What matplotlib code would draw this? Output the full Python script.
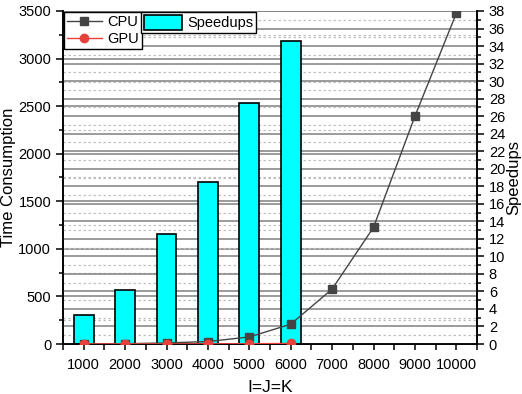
import matplotlib
matplotlib.use("Agg")
import matplotlib.pyplot as plt
import numpy as np
from matplotlib.ticker import MultipleLocator, FixedLocator
from matplotlib.lines import Line2D
from matplotlib.patches import Patch

plt.rcParams['font.family'] = ['Liberation Sans', 'DejaVu Sans']

sizes = ["1000", "2000", "3000", "4000", "5000", "6000", "7000", "8000", "9000", "10000"]
cpu_time = [1, 3, 11, 26, 74, 208, 577, 1226, 2393, 3476]
gpu_sizes = ["1000", "2000", "3000", "4000", "5000", "6000"]
gpu_time = [0.3, 0.5, 0.9, 1.4, 2.7, 6.0]
speedups = [3.3, 6.2, 12.6, 18.5, 27.5, 34.6]

W, H = 522, 394
fig = plt.figure(figsize=(W/100, H/100), dpi=100)
AX_L, AX_R, AX_T, AX_B = 63, 477, 11, 344
ax1 = fig.add_axes([AX_L/W, 1-AX_B/H, (AX_R-AX_L)/W, (AX_B-AX_T)/H])
ax2 = ax1.twinx()

x_all = np.arange(len(sizes))
x_gpu = np.array([sizes.index(s) for s in gpu_sizes])

ax1.set_xlim(-0.5, len(sizes)-0.5)
ax1.set_ylim(0, 3500)
ax2.set_ylim(0, 38)

# grids
grid_major = dict(color='#808080', linewidth=1.1, linestyle='-')
grid_minor = dict(color='#c0c0c0', linewidth=0.9, linestyle=(0, (2, 2)))
for ax in (ax1, ax2):
    ax.set_axisbelow(True)
ax1.yaxis.set_major_locator(MultipleLocator(500))
ax1.yaxis.set_minor_locator(MultipleLocator(250))
ax2.yaxis.set_major_locator(MultipleLocator(2))
ax2.yaxis.set_minor_locator(MultipleLocator(1))
ax1.grid(True, axis='y', which='major', **grid_major)
ax1.grid(True, axis='y', which='minor', **grid_minor)
ax2.grid(True, axis='y', which='major', **grid_major)
ax2.grid(True, axis='y', which='minor', **grid_minor)

# bars on speedup axis
ax2.bar(x_gpu, speedups, width=0.48, color='#00ffff', edgecolor='black', linewidth=1.2, zorder=2)

# lines drawn on ax2 but in ax1 coordinates so they sit above bars
ax2.plot(x_all, cpu_time, color='#444444', linewidth=1.0, marker='s', markersize=6,
         transform=ax1.transData, zorder=4, clip_on=True)
ax2.plot(x_gpu, gpu_time, color='#e8403a', linewidth=1.0, marker='o', markersize=6,
         transform=ax1.transData, zorder=5, clip_on=True)

ax1.set_xticks(x_all)
ax1.set_xticklabels(sizes)
ax1.xaxis.set_minor_locator(FixedLocator(np.arange(-0.5, len(sizes), 1.0)))

for ax in (ax1, ax2):
    ax.spines['top'].set_visible(False)
    for s in ax.spines.values():
        s.set_linewidth(1.2)
        s.set_color('black')

ax1.tick_params(axis='x', which='major', direction='out', length=4, width=1.1, labelsize=10.5, pad=6)
ax1.tick_params(axis='x', which='minor', direction='out', length=4, width=1.1)
ax1.tick_params(axis='y', which='major', direction='out', length=5, width=1.1, labelsize=10.5)
ax1.tick_params(axis='y', which='minor', direction='out', length=3, width=1.1)
ax2.tick_params(axis='y', which='major', direction='out', length=5, width=1.1, labelsize=10.5)
ax2.tick_params(axis='y', which='minor', direction='out', length=3, width=1.1)

AW, AH = AX_R-AX_L, AX_B-AX_T
ax1.set_xlabel("I=J=K", fontsize=12.5)
ax1.xaxis.set_label_coords(0.5, (AX_B-387)/AH)
ax1.xaxis.label.set_va('center')

ax1.set_ylabel("Time Consumption", fontsize=12)
ax1.yaxis.set_label_coords((9-AX_L)/AW, 0.5)
ax1.yaxis.label.set_va('center')
ax1.yaxis.label.set_ha('center')

ax2.set_ylabel("Speedups", fontsize=12)
ax2.yaxis.set_label_coords((513.5-AX_L)/AW, 0.5)
ax2.yaxis.label.set_va('center')
ax2.yaxis.label.set_ha('center')

h1 = [Line2D([0], [0], color='#444444', lw=1.0, marker='s', markersize=6),
      Line2D([0], [0], color='#e8403a', lw=1.0, marker='o', markersize=6)]
leg1 = fig.legend(h1, ["CPU", "GPU"], loc='upper left', bbox_to_anchor=(64/W, 1-12/H),
                  borderaxespad=0, fancybox=False, edgecolor='black', framealpha=1,
                  fontsize=10.5, handlelength=2.4, borderpad=0.2, labelspacing=0.2,
                  handletextpad=0.35)
leg1.get_frame().set_linewidth(1.0)
h2 = [Patch(facecolor='#00ffff', edgecolor='black', linewidth=1.2)]
leg2 = fig.legend(h2, ["Speedups"], loc='upper left', bbox_to_anchor=(141/W, 1-12/H),
                  borderaxespad=0, fancybox=False, edgecolor='black', framealpha=1,
                  fontsize=10.5, handlelength=2.6, handleheight=1.2, borderpad=0.2,
                  handletextpad=0.35)
leg2.get_frame().set_linewidth(1.0)

fig.savefig("out.png", dpi=100)
